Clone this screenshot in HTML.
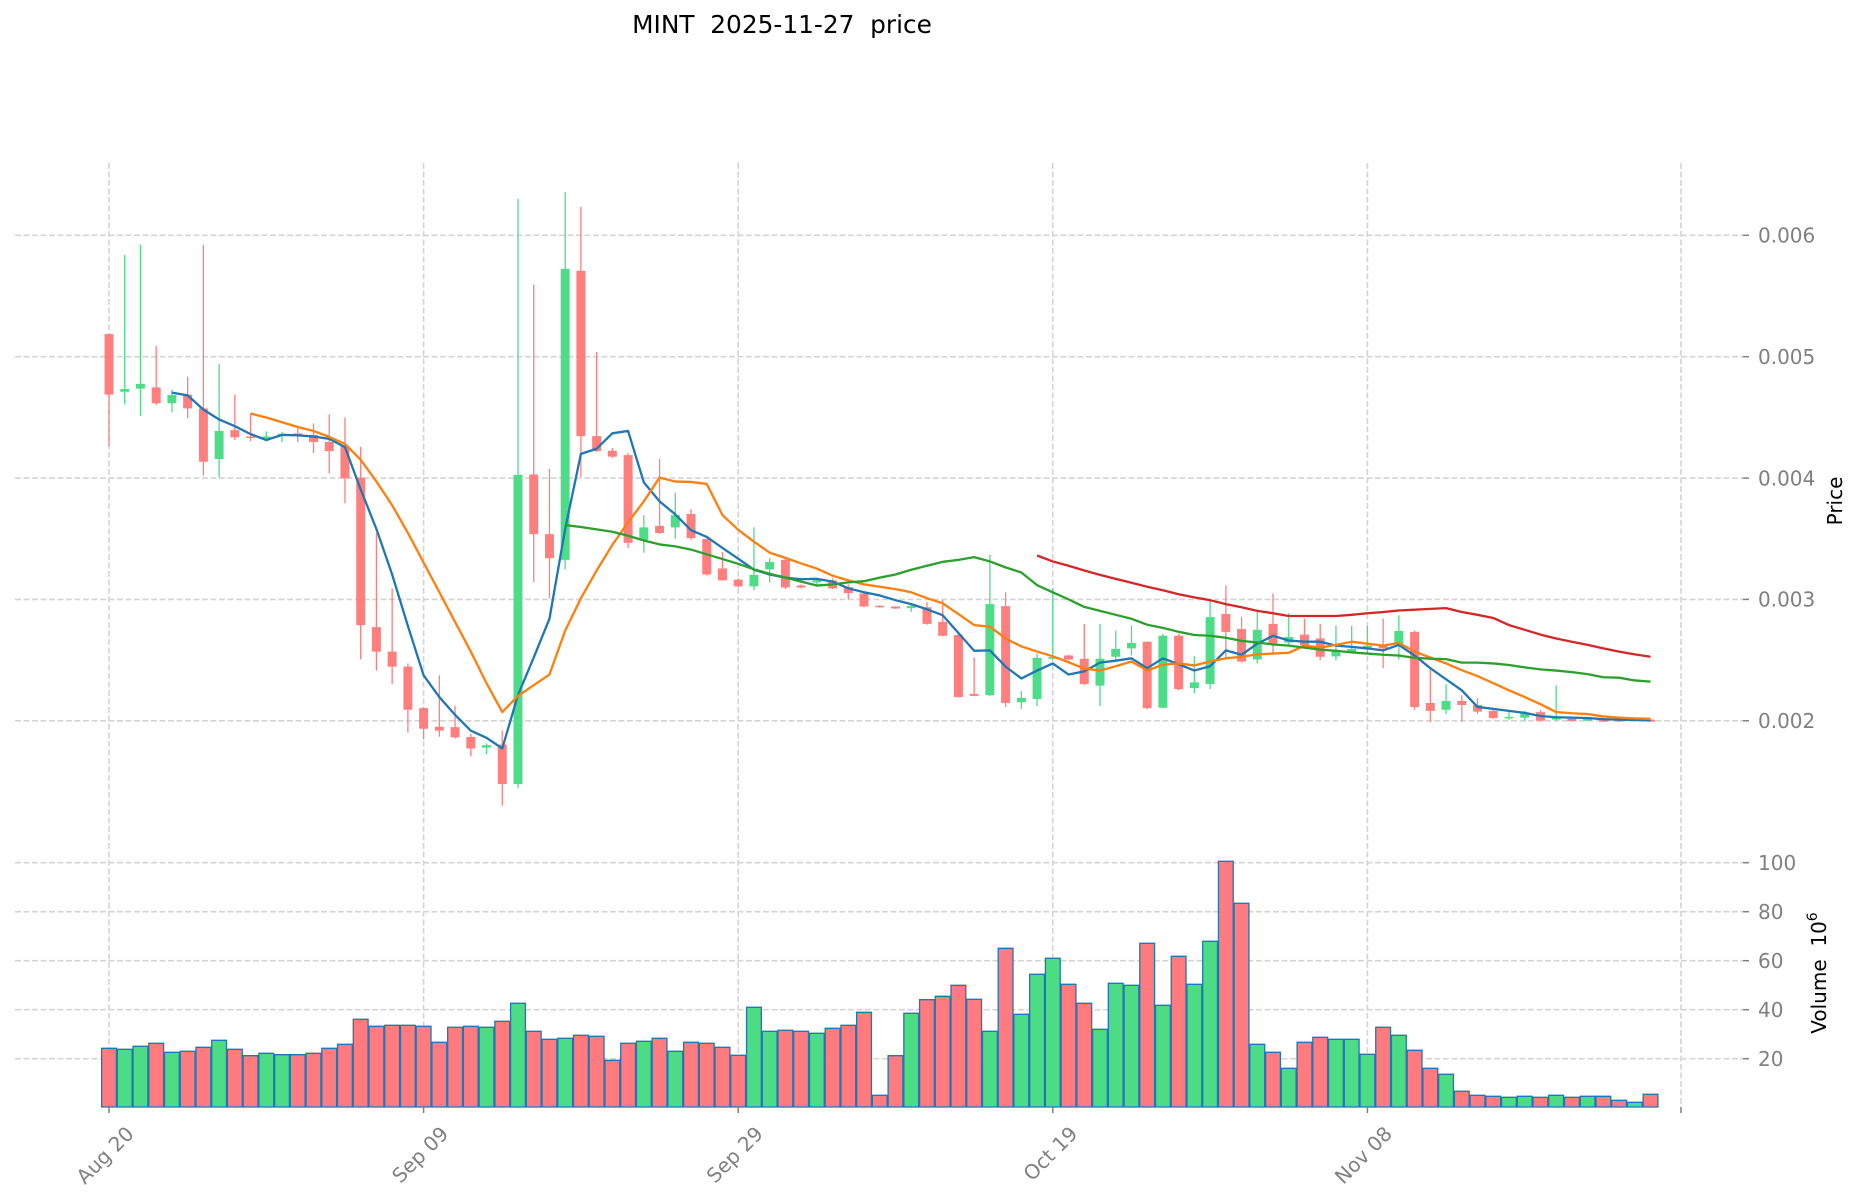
<!DOCTYPE html>
<html><head><meta charset="utf-8"><style>
html,body{margin:0;padding:0;background:#fff;}
svg{display:block;font-family:"DejaVu Sans","Liberation Sans",sans-serif;}
.ns{vector-effect:non-scaling-stroke;}
</style></head><body>
<svg width="1860" height="1202" viewBox="0 0 1860 1202" xmlns="http://www.w3.org/2000/svg">
<rect x="0" y="0" width="1860" height="1202" fill="#fff"/>
<text x="782" y="33" font-size="24.8" text-anchor="middle" fill="#000">MINT&#160; 2025-11-27&#160; price</text>

<g stroke="#d4d4d4" stroke-width="1.6" stroke-dasharray="5.9 2.6" fill="none">
<line x1="15" x2="1743" y1="235.3" y2="235.3"/>
<line x1="15" x2="1743" y1="356.7" y2="356.7"/>
<line x1="15" x2="1743" y1="478.1" y2="478.1"/>
<line x1="15" x2="1743" y1="599.4" y2="599.4"/>
<line x1="15" x2="1743" y1="720.8" y2="720.8"/>
<line x1="15" x2="1743" y1="862.7" y2="862.7"/>
<line x1="15" x2="1743" y1="911.7" y2="911.7"/>
<line x1="15" x2="1743" y1="960.7" y2="960.7"/>
<line x1="15" x2="1743" y1="1009.7" y2="1009.7"/>
<line x1="15" x2="1743" y1="1058.7" y2="1058.7"/>
<line x1="109" x2="109" y1="163" y2="1107"/>
<line x1="423.6" x2="423.6" y1="163" y2="1107"/>
<line x1="738.2" x2="738.2" y1="163" y2="1107"/>
<line x1="1052.8" x2="1052.8" y1="163" y2="1107"/>
<line x1="1367.4" x2="1367.4" y1="163" y2="1107"/>
<line x1="1681" x2="1681" y1="163" y2="1107"/>
</g>

<!-- candles -->
<g transform="translate(109,185) scale(15.73,0.39541)">
<path class="ns" fill="none" stroke="#ff7f7f" stroke-width="1.3" d="M0 375V660M3 407V557M5 485V590M6 151V735M8 530V645M9 578V648M12 615V650M13 603V678M14 580V730M15 588V805M16 662V1200M17 880V1228M18 1020V1262M19 1210V1385M20 1320V1402M21 1240V1395M22 1317V1400M23 1388V1445M25 1380V1570M27 252V1005M28 718V1045M30 55V738M31 422V675M32 665V690M33 678V918M35 693V883M37 820V898M38 895V988M39 928V1000M40 995V1018M43 945V1022M44 1010V1020M46 995V1022M47 1010V1048M48 1030V1068M49 1063V1069M50 1065V1072M52 1055V1112M53 1050V1142M54 1130V1296M55 1195V1293M57 1030V1320M61 1188V1202M62 1110V1265M66 1155V1326M68 1135V1278M71 1013V1198M72 1092V1208M74 1033V1185M76 1097V1167M77 1110V1202M81 1097V1222M83 1127V1327M84 1225V1358M86 1290V1357M87 1298V1337M88 1328V1350M91 1328V1357M93 1349V1357M95 1351V1358M96 1351V1358M98 1351V1358"/>
<path fill="#ff7f7f" d="M-0.285 377h0.57V530h-0.57ZM2.715 512h0.57V552h-0.57ZM4.715 530h0.57V565h-0.57ZM5.715 565h0.57V700h-0.57ZM7.715 620h0.57V638h-0.57ZM8.715 636h0.57V640h-0.57ZM11.715 628h0.57V634h-0.57ZM12.715 632h0.57V650h-0.57ZM13.715 650h0.57V673h-0.57ZM14.715 660h0.57V742h-0.57ZM15.715 740h0.57V1113h-0.57ZM16.715 1118h0.57V1180h-0.57ZM17.715 1180h0.57V1218h-0.57ZM18.715 1218h0.57V1327h-0.57ZM19.715 1323h0.57V1375h-0.57ZM20.715 1370h0.57V1380h-0.57ZM21.715 1371h0.57V1397h-0.57ZM22.715 1396h0.57V1425h-0.57ZM24.715 1415h0.57V1515h-0.57ZM26.715 732h0.57V883h-0.57ZM27.715 883h0.57V944h-0.57ZM29.715 217h0.57V635h-0.57ZM30.715 635h0.57V673h-0.57ZM31.715 672h0.57V687h-0.57ZM32.715 683h0.57V905h-0.57ZM34.715 862h0.57V880h-0.57ZM36.715 832h0.57V893h-0.57ZM37.715 895h0.57V985h-0.57ZM38.715 970h0.57V1000h-0.57ZM39.715 998h0.57V1015h-0.57ZM42.715 948h0.57V1018h-0.57ZM43.715 1013h0.57V1018h-0.57ZM45.715 1000h0.57V1020h-0.57ZM46.715 1017h0.57V1032h-0.57ZM47.715 1033h0.57V1066h-0.57ZM48.715 1064h0.57V1068h-0.57ZM49.715 1066h0.57V1071h-0.57ZM51.715 1068h0.57V1110h-0.57ZM52.715 1105h0.57V1140h-0.57ZM53.715 1138h0.57V1295h-0.57ZM54.715 1287h0.57V1292h-0.57ZM56.715 1065h0.57V1310h-0.57ZM60.715 1190h0.57V1200h-0.57ZM61.715 1198h0.57V1262h-0.57ZM65.715 1155h0.57V1323h-0.57ZM67.715 1140h0.57V1275h-0.57ZM70.715 1085h0.57V1130h-0.57ZM71.715 1123h0.57V1205h-0.57ZM73.715 1110h0.57V1160h-0.57ZM75.715 1137h0.57V1165h-0.57ZM76.715 1147h0.57V1193h-0.57ZM80.715 1163h0.57V1172h-0.57ZM82.715 1130h0.57V1320h-0.57ZM83.715 1310h0.57V1330h-0.57ZM85.715 1305h0.57V1315h-0.57ZM86.715 1315h0.57V1332h-0.57ZM87.715 1330h0.57V1348h-0.57ZM90.715 1333h0.57V1355h-0.57ZM92.715 1350h0.57V1356h-0.57ZM94.715 1352h0.57V1357h-0.57ZM95.715 1352h0.57V1357h-0.57ZM97.715 1352h0.57V1357h-0.57Z"/>
<path class="ns" fill="none" stroke="#4fdc88" stroke-width="1.3" d="M1 177V555M2 151V584M4 518V575M7 452V740M10 623V648M11 625V650M24 1412V1440M26 35V1525M29 18V972M34 835V930M36 778V895M41 866V1025M42 944V1005M45 995V1010M51 1060V1080M56 935V1293M58 1280V1325M59 1185V1318M60 1020V1200M63 1110V1318M64 1127V1200M65 1114V1190M67 1135V1323M69 1192V1285M70 1050V1275M73 1080V1210M75 1083V1162M78 1115V1202M79 1115V1185M80 1115V1185M82 1088V1200M85 1263V1338M89 1330V1352M90 1330V1356M92 1265V1355M94 1349V1356M97 1349V1354"/>
<path fill="#4fdc88" d="M0.715 516h0.57V523h-0.57ZM1.715 503h0.57V515h-0.57ZM3.715 531h0.57V552h-0.57ZM6.715 622h0.57V693h-0.57ZM9.715 636h0.57V641h-0.57ZM10.715 629h0.57V634h-0.57ZM23.715 1417h0.57V1423h-0.57ZM25.715 733h0.57V1515h-0.57ZM28.715 212h0.57V948h-0.57ZM33.715 866h0.57V898h-0.57ZM35.715 835h0.57V866h-0.57ZM40.715 986h0.57V1015h-0.57ZM41.715 953h0.57V972h-0.57ZM44.715 1000h0.57V1005h-0.57ZM50.715 1065h0.57V1070h-0.57ZM55.715 1060h0.57V1290h-0.57ZM57.715 1297h0.57V1308h-0.57ZM58.715 1196h0.57V1300h-0.57ZM59.715 1194h0.57V1198h-0.57ZM62.715 1198h0.57V1266h-0.57ZM63.715 1173h0.57V1193h-0.57ZM64.715 1158h0.57V1172h-0.57ZM66.715 1140h0.57V1322h-0.57ZM68.715 1258h0.57V1272h-0.57ZM69.715 1093h0.57V1262h-0.57ZM72.715 1125h0.57V1200h-0.57ZM74.715 1143h0.57V1157h-0.57ZM77.715 1180h0.57V1192h-0.57ZM78.715 1173h0.57V1180h-0.57ZM79.715 1165h0.57V1170h-0.57ZM81.715 1128h0.57V1162h-0.57ZM84.715 1305h0.57V1327h-0.57ZM88.715 1345h0.57V1349h-0.57ZM89.715 1335h0.57V1347h-0.57ZM91.715 1345h0.57V1352h-0.57ZM93.715 1350h0.57V1355h-0.57ZM96.715 1350h0.57V1354h-0.57Z"/>

<!-- moving averages -->
<polyline class="ns" fill="none" stroke="#1f77b4" stroke-width="2.3" stroke-linejoin="round" points="4,525 5,532 6,568 7,593 8,610 9,630 10,645 11,632 12,633 13,636 14,642 15,663 16,770 17,870 18,985 19,1115 20,1240 21,1295 22,1340 23,1380 24,1398 25,1425 26,1290 27,1195 28,1097 29,870 30,680 31,667 32,628 33,622 34,752 35,800 36,833 37,873 38,890 39,918 40,945 41,973 42,985 43,993 44,997 45,996 46,1003 47,1020 48,1030 49,1038 50,1050 51,1060 52,1073 53,1088 54,1133 55,1178 56,1177 57,1218 58,1248 59,1228 60,1210 61,1238 62,1230 63,1208 64,1203 65,1197 66,1222 67,1197 68,1212 69,1228 70,1217 71,1177 72,1188 73,1160 74,1140 75,1152 76,1155 77,1155 78,1165 79,1168 80,1172 81,1177 82,1163 83,1190 84,1222 85,1250 86,1278 87,1320 88,1325 89,1330 90,1335 91,1343 92,1346 93,1347 94,1348 95,1351 96,1352 97,1353 98,1354"/>
<polyline class="ns" fill="none" stroke="#ff7f0e" stroke-width="2.3" stroke-linejoin="round" points="9,578 10,588 11,600 12,612 13,622 14,637 15,655 16,695 17,750 18,810 19,880 20,955 21,1030 22,1105 23,1180 24,1260 25,1333 26,1292 27,1265 28,1238 29,1127 30,1045 31,975 32,910 33,853 34,800 35,740 36,750 37,751 38,756 39,835 40,872 41,902 42,930 43,943 44,957 45,970 46,988 47,1000 48,1010 49,1016 50,1022 51,1030 52,1045 53,1058 54,1085 55,1113 56,1117 57,1147 58,1167 59,1180 60,1192 61,1207 62,1223 63,1228 64,1217 65,1205 66,1228 67,1213 68,1210 69,1215 70,1205 71,1197 72,1193 73,1187 74,1185 75,1183 76,1165 77,1170 78,1163 79,1155 80,1160 81,1165 82,1158 83,1180 84,1195 85,1210 86,1227 87,1242 88,1260 89,1278 90,1295 91,1313 92,1333 93,1336 94,1338 95,1344 96,1347 97,1349 98,1350"/>
<polyline class="ns" fill="none" stroke="#2ca02c" stroke-width="2.3" stroke-linejoin="round" points="29,860 30,865 31,871 32,877 33,887 34,899 35,909 36,914 37,922 38,934 39,946 40,958 41,972 42,983 43,993 44,1003 45,1013 46,1010 47,1005 48,1002 49,993 50,985 51,973 52,963 53,953 54,948 55,941 56,952 57,967 58,980 59,1012 60,1030 61,1048 62,1067 63,1077 64,1087 65,1097 66,1112 67,1120 68,1130 69,1138 70,1140 71,1145 72,1153 73,1157 74,1162 75,1165 76,1170 77,1175 78,1178 79,1182 80,1185 81,1188 82,1190 83,1196 84,1198 85,1199 86,1208 87,1208 88,1210 89,1214 90,1220 91,1225 92,1228 93,1232 94,1237 95,1245 96,1246 97,1253 98,1256"/>
<polyline class="ns" fill="none" stroke="#d62728" stroke-width="2.3" stroke-linejoin="round" points="59,937 60,952 61,963 62,975 63,986 64,996 65,1006 66,1016 67,1025 68,1035 69,1043 70,1050 71,1060 72,1068 73,1077 74,1083 75,1090 76,1090 77,1090 78,1090 79,1087 80,1083 81,1080 82,1076 83,1074 84,1072 85,1070 86,1080 87,1087 88,1095 89,1113 90,1125 91,1137 92,1147 93,1155 94,1163 95,1172 96,1180 97,1187 98,1193"/>
</g>

<!-- volume -->
<g transform="translate(109,850) scale(15.73,0.33333)">
<path class="ns" fill="#ff7b7f" stroke="#1f77b4" stroke-width="1.3" d="M-0.47 595h0.94V771h-0.94ZM2.53 580h0.94V771h-0.94ZM4.53 604h0.94V771h-0.94ZM5.53 592h0.94V771h-0.94ZM7.53 598h0.94V771h-0.94ZM8.53 617h0.94V771h-0.94ZM11.53 614h0.94V771h-0.94ZM12.53 610h0.94V771h-0.94ZM13.53 595h0.94V771h-0.94ZM14.53 583h0.94V771h-0.94ZM15.53 508h0.94V771h-0.94ZM16.53 529h0.94V771h-0.94ZM17.53 526h0.94V771h-0.94ZM18.53 526h0.94V771h-0.94ZM19.53 529h0.94V771h-0.94ZM20.53 577h0.94V771h-0.94ZM21.53 532h0.94V771h-0.94ZM22.53 529h0.94V771h-0.94ZM24.53 514h0.94V771h-0.94ZM26.53 544h0.94V771h-0.94ZM27.53 568h0.94V771h-0.94ZM29.53 556h0.94V771h-0.94ZM30.53 559h0.94V771h-0.94ZM31.53 631h0.94V771h-0.94ZM32.53 580h0.94V771h-0.94ZM34.53 565h0.94V771h-0.94ZM36.53 577h0.94V771h-0.94ZM37.53 580h0.94V771h-0.94ZM38.53 592h0.94V771h-0.94ZM39.53 616h0.94V771h-0.94ZM42.53 541h0.94V771h-0.94ZM43.53 544h0.94V771h-0.94ZM45.53 535h0.94V771h-0.94ZM46.53 526h0.94V771h-0.94ZM47.53 487h0.94V771h-0.94ZM48.53 736h0.94V771h-0.94ZM49.53 617h0.94V771h-0.94ZM51.53 449h0.94V771h-0.94ZM52.53 439h0.94V771h-0.94ZM53.53 406h0.94V771h-0.94ZM54.53 448h0.94V771h-0.94ZM56.53 295h0.94V771h-0.94ZM60.53 403h0.94V771h-0.94ZM61.53 460h0.94V771h-0.94ZM65.53 280h0.94V771h-0.94ZM67.53 319h0.94V771h-0.94ZM70.53 34h0.94V771h-0.94ZM71.53 160h0.94V771h-0.94ZM73.53 607h0.94V771h-0.94ZM75.53 577h0.94V771h-0.94ZM76.53 562h0.94V771h-0.94ZM80.53 532h0.94V771h-0.94ZM82.53 601h0.94V771h-0.94ZM83.53 655h0.94V771h-0.94ZM85.53 724h0.94V771h-0.94ZM86.53 736h0.94V771h-0.94ZM87.53 739h0.94V771h-0.94ZM90.53 742h0.94V771h-0.94ZM92.53 742h0.94V771h-0.94ZM94.53 739h0.94V771h-0.94ZM95.53 751h0.94V771h-0.94ZM97.53 733h0.94V771h-0.94Z"/>
<path class="ns" fill="#4cdc86" stroke="#1f77b4" stroke-width="1.3" d="M0.53 598h0.94V771h-0.94ZM1.53 589h0.94V771h-0.94ZM3.53 607h0.94V771h-0.94ZM6.53 571h0.94V771h-0.94ZM9.53 610h0.94V771h-0.94ZM10.53 614h0.94V771h-0.94ZM23.53 532h0.94V771h-0.94ZM25.53 460h0.94V771h-0.94ZM28.53 565h0.94V771h-0.94ZM33.53 574h0.94V771h-0.94ZM35.53 604h0.94V771h-0.94ZM40.53 472h0.94V771h-0.94ZM41.53 544h0.94V771h-0.94ZM44.53 550h0.94V771h-0.94ZM50.53 490h0.94V771h-0.94ZM55.53 544h0.94V771h-0.94ZM57.53 493h0.94V771h-0.94ZM58.53 373h0.94V771h-0.94ZM59.53 325h0.94V771h-0.94ZM62.53 538h0.94V771h-0.94ZM63.53 400h0.94V771h-0.94ZM64.53 406h0.94V771h-0.94ZM66.53 466h0.94V771h-0.94ZM68.53 403h0.94V771h-0.94ZM69.53 274h0.94V771h-0.94ZM72.53 583h0.94V771h-0.94ZM74.53 655h0.94V771h-0.94ZM77.53 568h0.94V771h-0.94ZM78.53 568h0.94V771h-0.94ZM79.53 613h0.94V771h-0.94ZM81.53 556h0.94V771h-0.94ZM84.53 673h0.94V771h-0.94ZM88.53 742h0.94V771h-0.94ZM89.53 739h0.94V771h-0.94ZM91.53 736h0.94V771h-0.94ZM93.53 739h0.94V771h-0.94ZM96.53 757h0.94V771h-0.94Z"/>
</g>

<!-- ticks -->
<g stroke="#808080" stroke-width="1.5">
<line x1="1743" x2="1749" y1="235.3" y2="235.3"/>
<line x1="1743" x2="1749" y1="356.7" y2="356.7"/>
<line x1="1743" x2="1749" y1="478.1" y2="478.1"/>
<line x1="1743" x2="1749" y1="599.4" y2="599.4"/>
<line x1="1743" x2="1749" y1="720.8" y2="720.8"/>
<line x1="1743" x2="1749" y1="862.7" y2="862.7"/>
<line x1="1743" x2="1749" y1="911.7" y2="911.7"/>
<line x1="1743" x2="1749" y1="960.7" y2="960.7"/>
<line x1="1743" x2="1749" y1="1009.7" y2="1009.7"/>
<line x1="1743" x2="1749" y1="1058.7" y2="1058.7"/>
<line x1="109" x2="109" y1="1107" y2="1113"/>
<line x1="423.6" x2="423.6" y1="1107" y2="1113"/>
<line x1="738.2" x2="738.2" y1="1107" y2="1113"/>
<line x1="1052.8" x2="1052.8" y1="1107" y2="1113"/>
<line x1="1367.4" x2="1367.4" y1="1107" y2="1113"/>
<line x1="1681" x2="1681" y1="1107" y2="1113"/>
</g>

<g font-size="20" fill="#808080">
<text x="1758" y="242.5">0.006</text>
<text x="1758" y="363.9">0.005</text>
<text x="1758" y="485.3">0.004</text>
<text x="1758" y="606.6">0.003</text>
<text x="1758" y="728">0.002</text>
<text x="1758" y="869.9">100</text>
<text x="1758" y="918.9">80</text>
<text x="1758" y="967.9">60</text>
<text x="1758" y="1016.9">40</text>
<text x="1758" y="1065.9">20</text>
<text text-anchor="end" transform="translate(135,1135) rotate(-45)">Aug 20</text>
<text text-anchor="end" transform="translate(449.6,1135) rotate(-45)">Sep 09</text>
<text text-anchor="end" transform="translate(764.2,1135) rotate(-45)">Sep 29</text>
<text text-anchor="end" transform="translate(1078.8,1135) rotate(-45)">Oct 19</text>
<text text-anchor="end" transform="translate(1393.4,1135) rotate(-45)">Nov 08</text>
</g>

<text font-size="20" fill="#000" text-anchor="middle" transform="translate(1842,501) rotate(-90)">Price</text>
<text font-size="20" fill="#000" text-anchor="middle" transform="translate(1826,973) rotate(-90)">Volume&#160; 10<tspan font-size="14" dy="-9">6</tspan></text>
</svg>
</body></html>
